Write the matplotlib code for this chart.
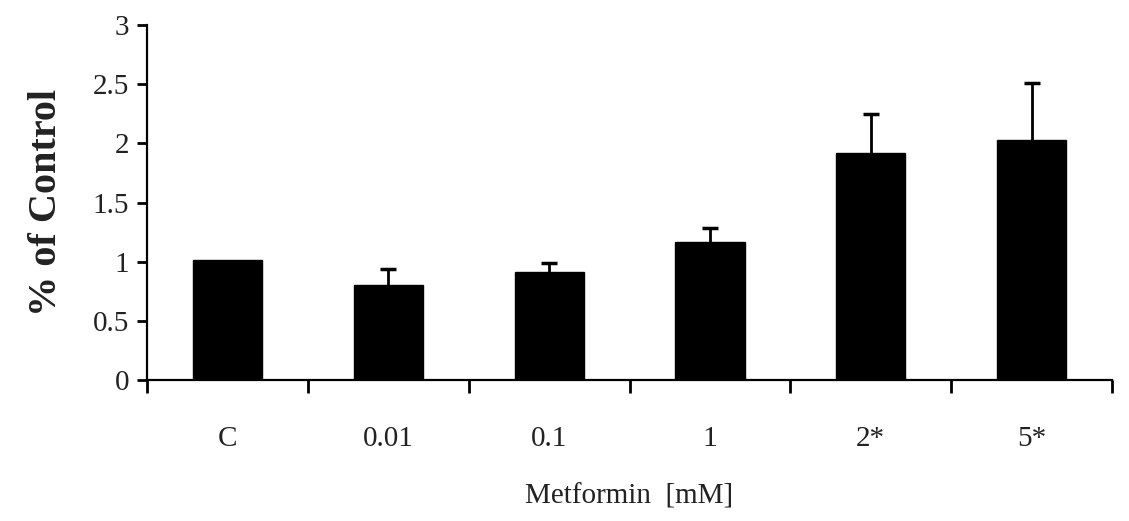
import matplotlib.pyplot as plt
import numpy as np

plt.rcParams['font.family'] = ['Liberation Serif', 'DejaVu Serif']

labels = ["C", "0.01", "0.1", "1", "2*", "5*"]
values = [1.01, 0.80, 0.91, 1.17, 1.92, 2.03]
err_up = [0.0, 0.14, 0.08, 0.115, 0.33, 0.48]

fig = plt.figure(figsize=(11.29, 5.21), dpi=100)
ax = fig.add_axes([0.1302, 0.2706, 0.8548, 0.6814])

x = np.arange(len(labels))
ax.bar(x, values, width=0.43, color="black", edgecolor="black", zorder=2)
# только верхние усы
eb = ax.errorbar(x[1:], values[1:], yerr=[np.zeros(len(x) - 1), err_up[1:]],
                 fmt="none", ecolor="black", elinewidth=2.0, capsize=5.5,
                 capthick=2.5, zorder=1)
eb[1][0].set_visible(False)  # нижние засечки не нужны

ax.set_xlim(-0.5, len(labels) - 0.5)
ax.set_ylim(0, 3)
ax.set_yticks(np.arange(0, 3.01, 0.5))
ax.set_yticklabels(["0", "0.5", "1", "1.5", "2", "2.5", "3"])

ax.set_xticks(np.arange(-0.5, len(labels), 1.0))
ax.set_xticklabels([])
ax.set_xticks(x, minor=True)
ax.set_xticklabels(labels, minor=True)

ax.spines["top"].set_visible(False)
ax.spines["right"].set_visible(False)
ax.spines["left"].set_linewidth(1.6)
ax.spines["bottom"].set_linewidth(1.6)
ax.tick_params(axis="y", direction="out", length=7, width=2.0, labelsize=21,
               pad=6, labelcolor="#222222")
ax.tick_params(axis="x", which="major", direction="out", length=9, width=2.0)
ax.tick_params(axis="x", which="minor", length=0, labelsize=21, pad=33,
               labelcolor="#222222")

ax.set_ylabel("% of Control", fontsize=29, fontweight="bold", labelpad=20,
              color="#222222")
ax.set_xlabel("Metformin  [mM]", fontsize=21, labelpad=23, color="#222222")

fig.savefig("out.png", dpi=100)
